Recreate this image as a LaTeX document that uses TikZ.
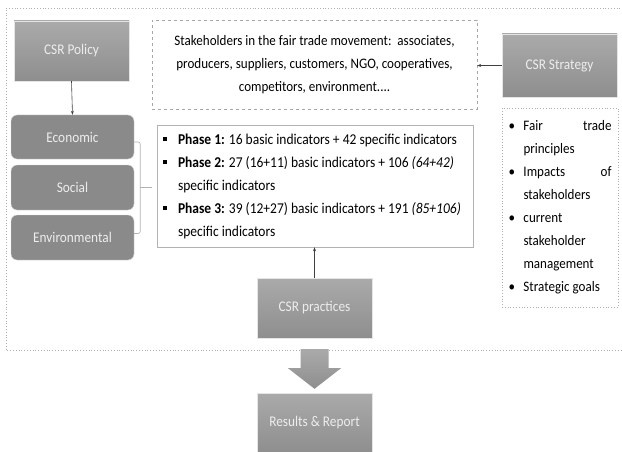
\documentclass[tikz,border=0pt]{standalone}
\usepackage{fontspec}
\setmainfont{Carlito}[FakeStretch=0.9]
\usetikzlibrary{arrows.meta,calc,shadows}
\definecolor{boxtop}{HTML}{AAAAAA}
\definecolor{boxbot}{HTML}{8E8E8E}
\definecolor{roundfill}{HTML}{8A8A8A}
\definecolor{labelc}{HTML}{EDEDED}
\definecolor{framec}{HTML}{B0B0B0}
\begin{document}
\begin{tikzpicture}[x=1pt,y=-1pt,
  graybox/.style={rectangle, top color=boxtop, bottom color=boxbot, draw=white!80!gray,
    text=labelc, minimum width=115pt, minimum height=60pt, inner sep=0pt,
    font=\fontsize{14.8}{17}\selectfont, drop shadow={shadow xshift=1pt,shadow yshift=-1pt,opacity=0.25}},
  roundbox/.style={rectangle, rounded corners=6pt, fill=roundfill, draw=white!70!gray,
    text=labelc, minimum width=123pt, inner sep=0pt, font=\fontsize{14.8}{17}\selectfont},
  conn/.style={draw=black!75, line width=0.6pt, -{Stealth[length=4pt,width=3pt]}},
  brack/.style={draw=gray!60, line width=0.6pt}
]
\useasboundingbox (0,0) rectangle (622,452);

% outer dotted frame
\draw[framec, dotted, line width=0.8pt] (623,8) -- (6,8) -- (6,350) -- (623,350);

% nodes
\node[graybox] (policy) at (71.5,51) {CSR Policy};
\node[roundbox, minimum height=44pt] (eco) at (72.5,137) {Economic};
\node[roundbox, minimum height=45pt] (soc) at (72.5,187.5) {Social};
\node[roundbox, minimum height=45pt] (env) at (72.5,237.5) {Environmental};

\node[draw=gray!70, dashed, minimum width=325pt, minimum height=89pt, align=center,
  font=\fontsize{14.5}{23}\selectfont, inner sep=0pt] (stake) at (314.5,64.5)
  {Stakeholders in the fair trade movement:\ \ associates,\\
   producers, suppliers, customers, NGO, cooperatives,\\
   competitors, environment....};

\node[graybox, minimum height=63pt] (strat) at (559.5,65.5) {CSR Strategy};

\newcommand{\sqb}{\makebox[15pt][l]{\raisebox{2.8pt}{\rule{3.8pt}{3.8pt}}}}
\node[draw=gray!60, line width=0.5pt, minimum width=316pt, minimum height=122pt,
  align=left, inner sep=0pt, font=\fontsize{15}{23}\selectfont,
  drop shadow={shadow xshift=1pt,shadow yshift=-1pt,opacity=0.2}, fill=white] (phases) at (315,186)
  {\parbox{304pt}{\raggedright
   \sqb\textbf{Phase 1:} 16 basic indicators + 42 specific indicators\\
   \sqb\textbf{Phase 2:} 27 (16+11) basic indicators + 106 \textit{(64+42)}\\
   \hspace*{15pt}specific indicators\\
   \sqb\textbf{Phase 3:} 39 (12+27) basic indicators + 191 \textit{(85+106)}\\
   \hspace*{15pt}specific indicators}};

\newcommand{\dotb}{\makebox[15pt][l]{\textbullet}}
\node[draw=framec, dotted, line width=0.8pt, minimum width=116pt, minimum height=199pt,
  inner sep=0pt, font=\fontsize{14.5}{23}\selectfont] (goals) at (560,207.5)
  {\parbox{103pt}{\raggedright
   \dotb\makebox[88pt][l]{Fair\hfill trade}\\
   \hspace*{15pt}principles\\
   \dotb\makebox[88pt][l]{Impacts\hfill of}\\
   \hspace*{15pt}stakeholders\\
   \dotb current\\
   \hspace*{15pt}stakeholder\\
   \hspace*{15pt}management\\
   \dotb Strategic goals}};

\node[graybox] (prac) at (314.5,308) {CSR practices};
\node[graybox] (res) at (314.5,423) {Results \& Report};

% connectors
\draw[conn] (policy.south) -- (eco.north);
\draw[conn] (strat.west) -- (stake.east |- strat.west);
\draw[conn] (prac.north) -- (phases.south -| prac.north);

% bracket
\coordinate (bt) at ($(eco.east)+(0,5)$);
\coordinate (bb) at ($(env.east)+(0,-4)$);
\coordinate (bm) at ($(soc.east)+(6,0)$);
\draw[brack, rounded corners=2pt] (bt) -- (bt -| bm) -- (bb -| bm) -- (bb);
\draw[brack] (bm) -- ($(bm)+(12,0)$);

% big down arrow
\shade[top color=boxtop, bottom color=boxbot, draw=none]
  ($(prac.south)+(-14,11)$) -- ($(prac.south)+(14,11)$) -- ($(prac.south)+(14,30)$)
  -- ($(prac.south)+(26.5,30)$) -- ($(res.north)+(0,-4)$) -- ($(prac.south)+(-26.5,30)$)
  -- ($(prac.south)+(-14,30)$) -- cycle;
\end{tikzpicture}
\end{document}
